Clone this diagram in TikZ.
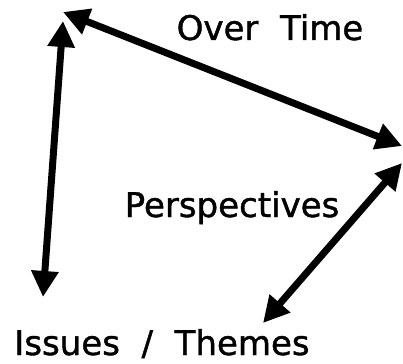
\documentclass[tikz,border=0pt]{standalone}
\usepackage{fontspec}
\setmainfont{DejaVu Sans}[FakeBold=1.2,WordSpace=2]
\usetikzlibrary{arrows.meta}

\tikzset{
  twoway/.style={line width=7pt, {Triangle[length=26pt,width=26pt]}-{Triangle[length=26pt,width=26pt]}},
  label/.style={anchor=base, inner sep=0pt, font=\fontsize{34pt}{40pt}\selectfont}
}

\begin{document}
\begin{tikzpicture}[x=1pt,y=-1pt]
\useasboundingbox (0,0) rectangle (403,363);
% End points of the three arrows.
\node[coordinate] (timeleft) at (63,12) {};
\node[coordinate] (timeright) at (402,146) {};
\node[coordinate] (issuetop) at (63,21) {};
\node[coordinate] (issuebot) at (43,297) {};
\node[coordinate] (perstop) at (402,163) {};
\node[coordinate] (persbot) at (263,323) {};

\node[label] (overtime) at (270,40) {Over Time};
\node[label] (perspectives) at (232,217) {Perspectives};
\node[label] (issues) at (162,355) {Issues / Themes};

\draw[twoway] (timeleft) -- (timeright);
\draw[twoway] (issuetop) -- (issuebot);
\draw[twoway] (perstop) -- (persbot);
\end{tikzpicture}
\end{document}
